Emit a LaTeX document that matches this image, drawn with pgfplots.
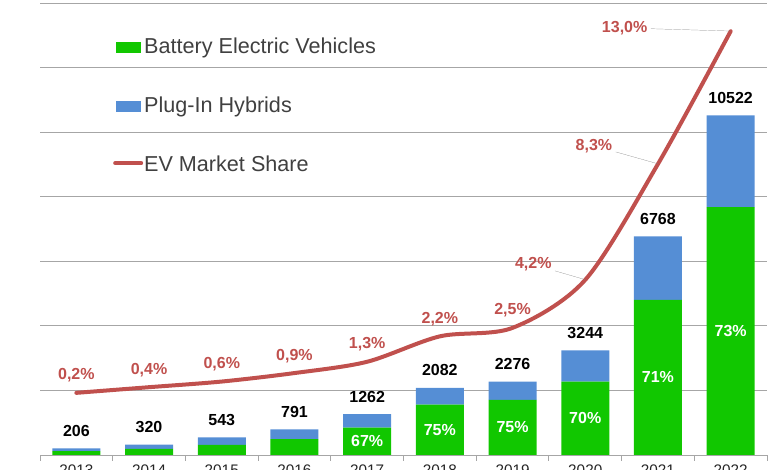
\documentclass[border=0pt]{standalone}
\usepackage{pgfplots}
\pgfplotsset{compat=1.18}
\usepackage{fontspec}
\setmainfont{Liberation Sans}
\definecolor{bev}{RGB}{17,199,0}
\definecolor{phev}{RGB}{85,142,213}
\definecolor{share}{RGB}{192,80,77}
\definecolor{gridc}{RGB}{166,166,166}
\definecolor{legtext}{RGB}{64,64,64}
\pgfplotsset{
  base/.style={scale only axis, width=727pt, height=452pt, xmin=-0.5, xmax=9.5,
    at={(0pt,0pt)}, anchor=south west},
}
\tikzset{lblfont/.style={font=\fontsize{16}{19}\selectfont\bfseries}}
\begin{document}
\begin{tikzpicture}
% ---------- stacked bars ----------
\begin{axis}[base, ymin=0, ymax=14000,
  ybar stacked, bar width=48pt,
  axis line style={draw=none},
  ytick={0,2000,...,14000}, yticklabels={}, ytick style={draw=none},
  ymajorgrids, grid style={gridc, line width=0.9pt},
  xtick={0,...,9}, xticklabels={2013,2014,2015,2016,2017,2018,2019,2020,2021,2022},
  major x tick style={draw=none},
  minor xtick={-0.5,0.5,...,9.5}, minor tick length=6pt, tick align=outside,
  minor x tick style={gridc, line width=0.9pt},
  xtick pos=bottom,
  xticklabel style={font=\fontsize{15.3}{18}\selectfont, text=black!85, yshift=-2pt},
  ]
\addplot[fill=bev, draw=none] coordinates {(0,120) (1,190) (2,310) (3,495) (4,846) (5,1562) (6,1707) (7,2271) (8,4805) (9,7681)};
\addplot[fill=phev, draw=none] coordinates {(0,86) (1,130) (2,233) (3,296) (4,416) (5,520) (6,569) (7,973) (8,1963) (9,2841)};
\end{axis}
% ---------- totals and BEV shares ----------
\begin{axis}[base, ymin=0, ymax=14000, hide axis, clip=false]
\addplot[draw=none, mark=none, point meta=explicit symbolic,
  nodes near coords={\pgfplotspointmeta},
  every node near coord/.style={anchor=base, yshift=12pt, lblfont, text=black}]
  coordinates {(0,206)[206] (1,320)[320] (2,543)[543] (3,791)[791] (4,1262)[1262] (5,2082)[2082] (6,2276)[2276] (7,3244)[3244] (8,6768)[6768] (9,10522)[10522]};
\addplot[draw=none, mark=none, point meta=explicit symbolic,
  nodes near coords={\pgfplotspointmeta},
  every node near coord/.style={anchor=center, lblfont, text=white}]
  coordinates {(4,423)[67\%] (5,781)[75\%] (6,853.5)[75\%] (7,1135.5)[70\%] (8,2402.5)[71\%] (9,3840.5)[73\%]};
\end{axis}
% ---------- market share line ----------
\begin{axis}[base, ymin=-2, ymax=14, hide axis, clip=false,
  legend style={at={(0.1004,0.9248)}, anchor=north west, draw=none, fill=none,
    inner sep=0pt, row sep=38pt, column sep=1pt,
    font=\fontsize{21.6}{26}\selectfont, text=legtext,
    nodes={inner sep=0pt, text height=16pt, text depth=5pt}},
  legend cell align=left]
\addlegendimage{legend image code/.code={\path[draw=none] (-14.5pt,0pt) -- (14.5pt,0pt); \path[fill=bev, draw=none] (-12.5pt,-5.5pt) rectangle (12.5pt,5.5pt);}}
\addlegendentry{Battery Electric Vehicles}
\addlegendimage{legend image code/.code={\path[draw=none] (-14.5pt,0pt) -- (14.5pt,0pt); \path[fill=phev, draw=none] (-12.5pt,-5.5pt) rectangle (12.5pt,5.5pt);}}
\addlegendentry{Plug-In Hybrids}
\addlegendimage{legend image code/.code={\draw[share, line width=4pt, line cap=round] (-13pt,2.5pt) -- (13pt,2.5pt);}}
\addlegendentry{EV Market Share}
\addplot[share, line width=4pt, smooth, line cap=round, line join=round, mark=none, forget plot]
  coordinates {(0,0.2) (1,0.4) (2,0.6) (3,0.9) (4,1.3) (5,2.2) (6,2.5) (7,4.2) (8,8.3) (9,13.0)};
\addplot[draw=none, mark=none, forget plot, point meta=explicit symbolic,
  nodes near coords={\pgfplotspointmeta},
  every node near coord/.style={anchor=base, yshift=13pt, lblfont, text=share}]
  coordinates {(0,0.2)[{0,2\%}] (1,0.4)[{0,4\%}] (2,0.6)[{0,6\%}] (3,0.9)[{0,9\%}] (4,1.3)[{1,3\%}] (5,2.2)[{2,2\%}] (6,2.5)[{2,5\%}]};
\addplot[draw=none, mark=none, forget plot, nodes near coords={},
  every node near coord/.style={inner sep=0pt, minimum size=0pt, pin distance=0pt,
    pin edge={black!80, line width=0.6pt},
    pin={[anchor=center, xshift=-52pt, yshift=-1pt, lblfont, text=share]{4,2\%}}}]
  coordinates {(7,4.2)};
\addplot[draw=none, mark=none, forget plot, nodes near coords={},
  every node near coord/.style={inner sep=0pt, minimum size=0pt, pin distance=0pt,
    pin edge={black!80, line width=0.6pt},
    pin={[anchor=center, xshift=-64pt, yshift=2pt, lblfont, text=share]{8,3\%}}}]
  coordinates {(8,8.3)};
\addplot[draw=none, mark=none, forget plot, nodes near coords={},
  every node near coord/.style={inner sep=0pt, minimum size=0pt, pin distance=0pt,
    pin edge={black!80, line width=0.6pt},
    pin={[anchor=center, xshift=-106pt, yshift=-13pt, lblfont, text=share]{13,0\%}}}]
  coordinates {(9,13.0)};
\end{axis}
\pgfresetboundingbox
\path[use as bounding box] (-40pt,-15pt) rectangle (740pt,455pt);
\end{tikzpicture}
\end{document}
